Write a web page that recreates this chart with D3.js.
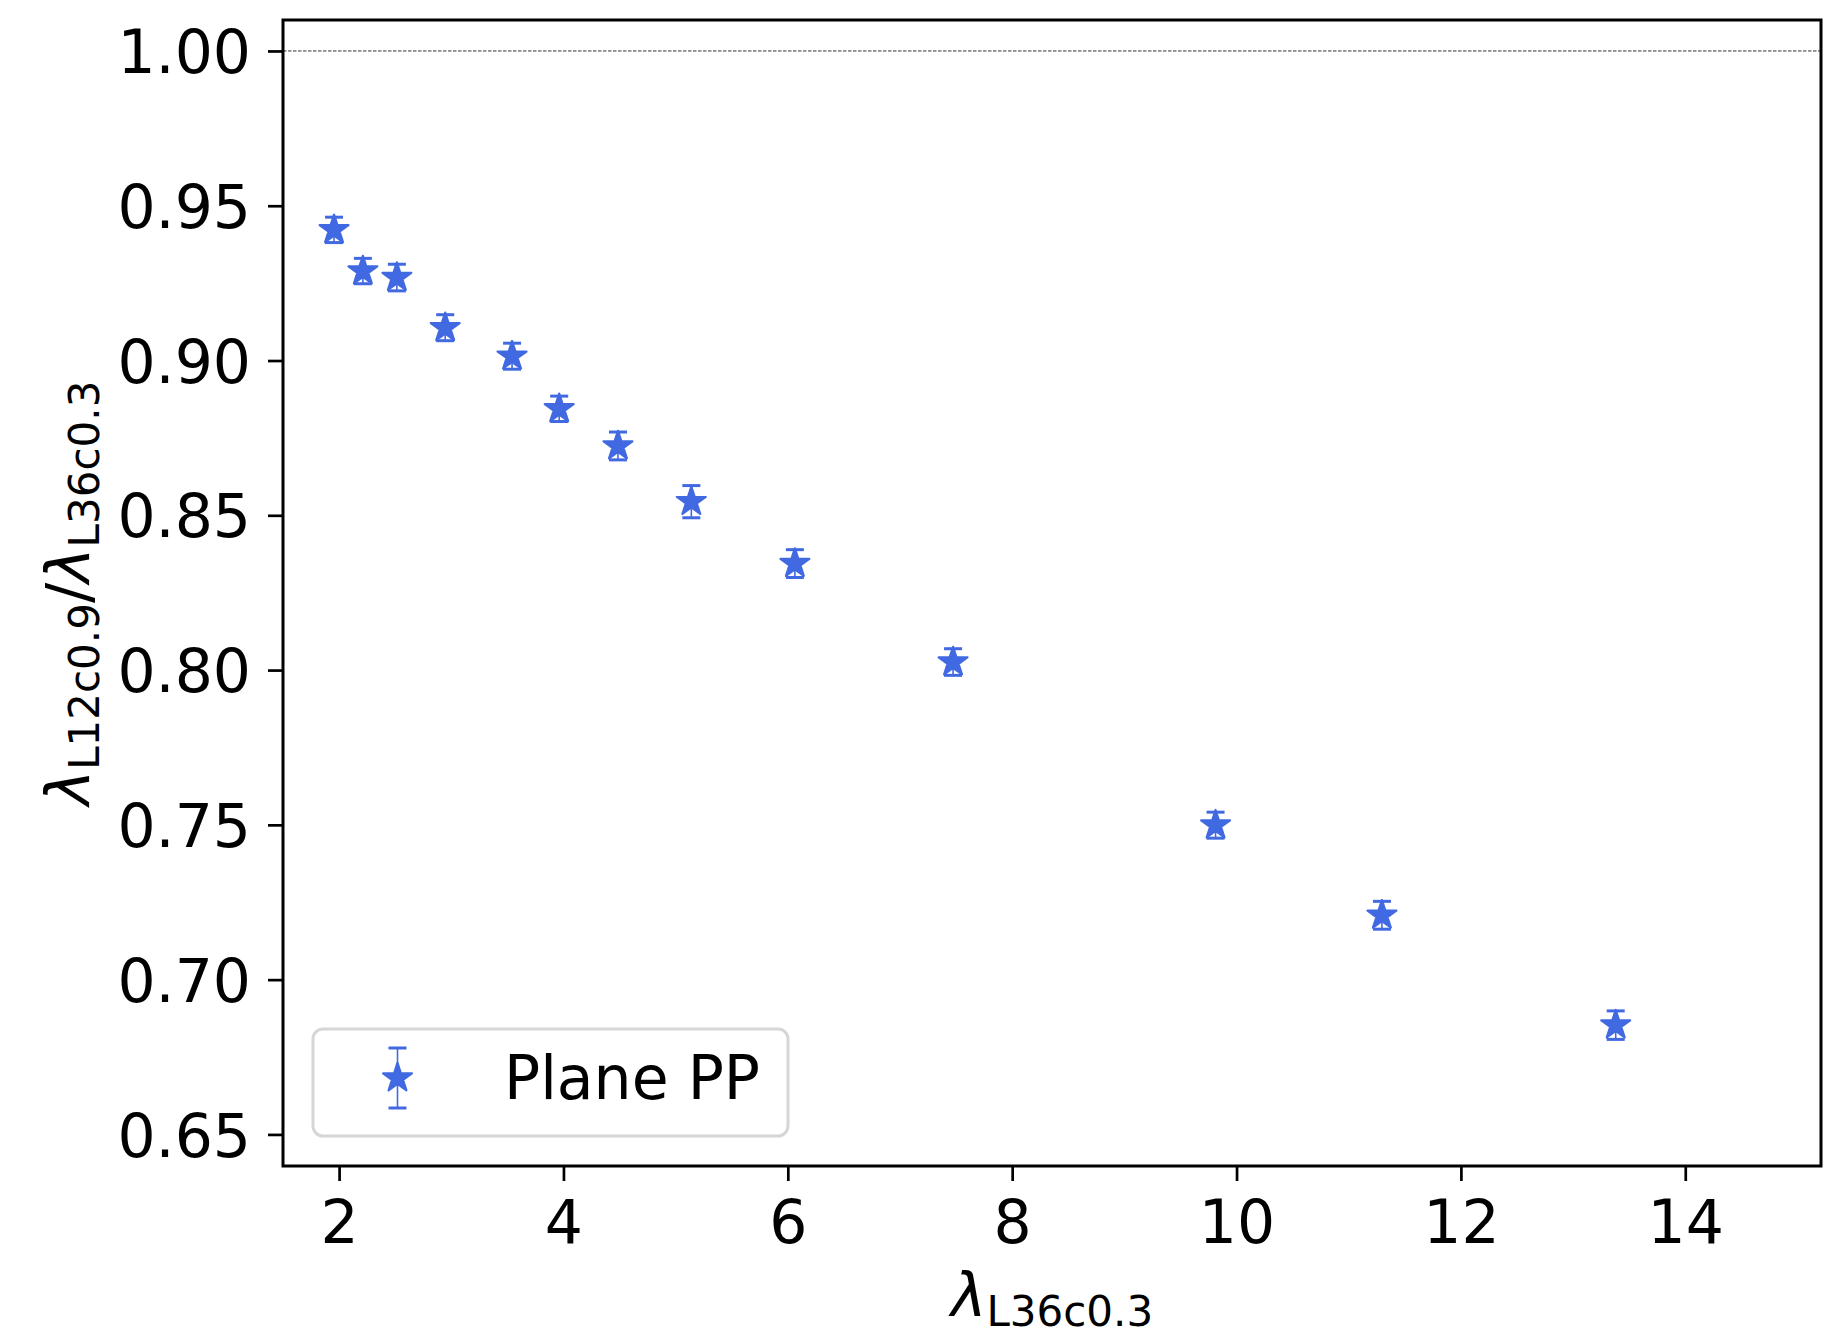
<!DOCTYPE html>
<html>
<head>
<meta charset="utf-8">
<script src="https://cdn.jsdelivr.net/npm/d3@7"></script>
<style>
  body { margin: 0; background: #fff; }
  text { font-family: "DejaVu Sans", sans-serif; fill: #000; }
</style>
</head>
<body>
<div id="graphicContainer"></div>
<script>
// values
var lambdaL36 = [1.955, 2.212, 2.515, 2.946, 3.542, 3.962, 4.486, 5.14, 6.063, 7.473, 9.813, 11.296, 13.38]
var ratio = [0.9422, 0.9289, 0.9268, 0.9106, 0.9014, 0.8844, 0.8724, 0.8544, 0.8344, 0.8026, 0.7499, 0.7208, 0.6853]
var ratioErr = [0.0041, 0.0041, 0.0043, 0.0042, 0.0042, 0.0041, 0.0045, 0.0052, 0.0045, 0.0043, 0.0042, 0.0045, 0.0046]
var xTickVals = [2, 4, 6, 8, 10, 12, 14]
var yTickVals = [0.65, 0.70, 0.75, 0.80, 0.85, 0.90, 0.95, 1.00]
var seriesName = "Plane PP"

var data = lambdaL36.map(function(d, i) {
	return { x: d, y: ratio[i], err: ratioErr[i] }
})

var blue = "#4169e1"
var fontSize = 60
var subSize = 42

var W = 1839, H = 1329
var margin = { top: 20, right: 18, bottom: 163, left: 283 }
var width = W - margin.left - margin.right
var height = H - margin.top - margin.bottom

var svg = d3.select("#graphicContainer").append("svg")
	.attr("width", W)
	.attr("height", H)

var features = svg.append("g").attr("transform", "translate(" + margin.left + "," + margin.top + ")")

var x = d3.scaleLinear().domain([1.5, 15.21]).range([0, width])
var y = d3.scaleLinear().domain([0.6398, 1.0100]).range([height, 0])

// reference line at 1
features.append("line")
	.attr("x1", 0).attr("x2", width)
	.attr("y1", y(1)).attr("y2", y(1))
	.attr("stroke", "#333")
	.attr("stroke-width", 1)
	.attr("stroke-dasharray", "3.5,1.5")

// axes
var xAxis = d3.axisBottom(x).tickValues(xTickVals).tickSize(15).tickPadding(19).tickFormat(d3.format("d"))
var yAxis = d3.axisLeft(y).tickValues(yTickVals).tickSize(15).tickPadding(17).tickFormat(d3.format(".2f"))

var gx = features.append("g").attr("transform", "translate(0," + height + ")").call(xAxis)
var gy = features.append("g").call(yAxis)

;[gx, gy].forEach(function(g) {
	g.select(".domain").remove()
	g.selectAll(".tick line").attr("stroke", "#000").attr("stroke-width", 2.7)
	g.selectAll(".tick text")
		.attr("font-family", "DejaVu Sans")
		.attr("font-size", fontSize)
		.attr("fill", "#000")
})
gy.selectAll(".tick text").attr("dy", "0.36em")

// error bars
var capW = 9
features.selectAll(".errbar")
	.data(data)
	.enter()
	.append("line")
	.attr("class", "errbar")
	.attr("x1", function(d) { return x(d.x) })
	.attr("x2", function(d) { return x(d.x) })
	.attr("y1", function(d) { return y(d.y - d.err) })
	.attr("y2", function(d) { return y(d.y + d.err) })
	.attr("stroke", blue)
	.attr("stroke-width", 1.6)

var star = d3.symbol().type(d3.symbolStar).size(15.2 * 15.2 / 0.8908130915292852)

features.selectAll(".pt")
	.data(data)
	.enter()
	.append("path")
	.attr("class", "pt")
	.attr("d", star)
	.attr("transform", function(d) { return "translate(" + x(d.x) + "," + y(d.y) + ")" })
	.attr("fill", blue)
	.attr("stroke", blue)
	.attr("stroke-width", 2.2)
	.attr("stroke-linejoin", "round")

;["lo", "hi"].forEach(function(side) {
	features.selectAll(".cap-" + side)
		.data(data)
		.enter()
		.append("line")
		.attr("class", "cap-" + side)
		.attr("x1", function(d) { return x(d.x) - capW })
		.attr("x2", function(d) { return x(d.x) + capW })
		.attr("y1", function(d) { return y(side == "hi" ? d.y + d.err : d.y - d.err) })
		.attr("y2", function(d) { return y(side == "hi" ? d.y + d.err : d.y - d.err) })
		.attr("stroke", blue)
		.attr("stroke-width", 3)
})

// frame
features.append("rect")
	.attr("x", 0).attr("y", 0)
	.attr("width", width).attr("height", height)
	.attr("fill", "none")
	.attr("stroke", "#000")
	.attr("stroke-width", 3)

// legend
var legend = svg.append("g")
legend.append("rect")
	.attr("x", 313).attr("y", 1029)
	.attr("width", 475).attr("height", 107)
	.attr("rx", 10)
	.attr("fill", "#fff")
	.attr("fill-opacity", 0.8)
	.attr("stroke", "#d6d6d6")
	.attr("stroke-width", 3)

var lx = 397.5, ly = 1078, lh = 30
legend.append("line")
	.attr("x1", lx).attr("x2", lx)
	.attr("y1", ly - lh).attr("y2", ly + lh)
	.attr("stroke", blue).attr("stroke-width", 1.6)
legend.append("path")
	.attr("d", star)
	.attr("transform", "translate(" + lx + "," + ly + ")")
	.attr("fill", blue)
	.attr("stroke", blue)
	.attr("stroke-width", 2.2)
	.attr("stroke-linejoin", "round")
;[ly - lh, ly + lh].forEach(function(cy) {
	legend.append("line")
		.attr("x1", lx - capW).attr("x2", lx + capW)
		.attr("y1", cy).attr("y2", cy)
		.attr("stroke", blue).attr("stroke-width", 3)
})
legend.append("text")
	.attr("x", 504).attr("y", 1099)
	.attr("font-size", fontSize)
	.text(seriesName)

// axis labels
var xl = svg.append("text")
	.attr("x", margin.left + width / 2)
	.attr("y", 1316)
	.attr("text-anchor", "middle")
	.attr("font-size", fontSize)
xl.append("tspan").attr("font-style", "italic").text("λ")
xl.append("tspan").attr("font-size", subSize).attr("dy", 10).text("L36c0.3")

var yl = svg.append("text")
	.attr("transform", "translate(89," + (margin.top + height / 2) + ") rotate(-90)")
	.attr("text-anchor", "middle")
	.attr("font-size", fontSize)
yl.append("tspan").attr("font-style", "italic").text("λ")
yl.append("tspan").attr("font-size", subSize).attr("dy", 10).text("L12c0.9")
yl.append("tspan").attr("dy", -10).text("/")
yl.append("tspan").attr("font-style", "italic").text("λ")
yl.append("tspan").attr("font-size", subSize).attr("dy", 10).text("L36c0.3")
</script>
</body>
</html>
